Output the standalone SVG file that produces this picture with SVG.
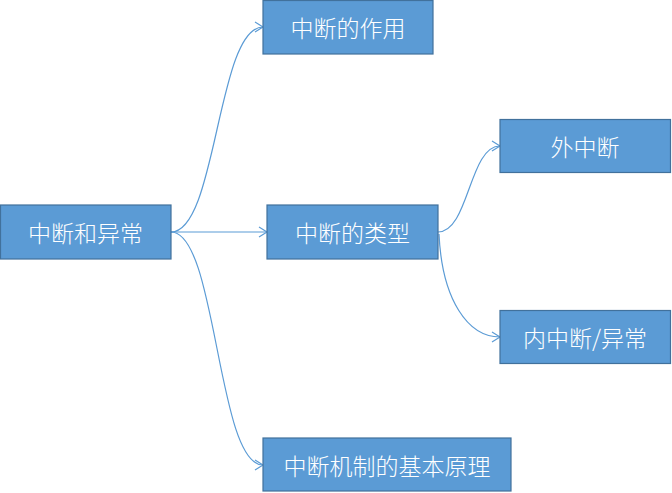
<svg xmlns="http://www.w3.org/2000/svg" width="672" height="493" viewBox="0 0 672 493">
<defs>
<style>
.box{fill:#5B9BD5;stroke:#41719C;stroke-width:1.2}
.lbl{fill:#fff;font-family:"Noto Sans CJK SC","Liberation Sans",sans-serif;font-size:23px;text-anchor:middle;dominant-baseline:central;font-weight:300}
.c{fill:none;stroke:#5B9BD5;stroke-width:1.2}
</style>
<marker id="ah" markerWidth="12" markerHeight="12" refX="9" refY="6" orient="auto" markerUnits="userSpaceOnUse">
<path d="M1,1 L9,6 L1,11" fill="none" stroke="#5B9BD5" stroke-width="1.2"/>
</marker>
</defs>
<rect width="672" height="493" fill="#fff"/>
<g id="connectors">
<path class="c" d="M171,232 C217,232 217,27 263,27" marker-end="url(#ah)"/>
<path class="c" d="M171,232 L267,232" marker-end="url(#ah)"/>
<path class="c" d="M171,232 C217,232 217,465 263,465" marker-end="url(#ah)"/>
<path class="c" d="M438,232 C469,232 469,146 500,146" marker-end="url(#ah)"/>
<path class="c" d="M439,234 C442,300 468,337 500,337" marker-end="url(#ah)"/>
</g>
<g id="n-root"><rect class="box" x="0.5" y="205" width="170.5" height="54"/><text class="lbl" x="85.5" y="232">中断和异常</text></g>
<g id="n-role"><rect class="box" x="263" y="0.5" width="170" height="53.5"/><text class="lbl" x="348" y="27">中断的作用</text></g>
<g id="n-type"><rect class="box" x="267" y="205" width="171" height="54"/><text class="lbl" x="352.5" y="232">中断的类型</text></g>
<g id="n-ext"><rect class="box" x="500" y="119.5" width="170.5" height="53"/><text class="lbl" x="585" y="146">外中断</text></g>
<g id="n-int"><rect class="box" x="500" y="310.5" width="170.5" height="53"/><text class="lbl" x="585" y="337">内中断/异常</text></g>
<g id="n-mech"><rect class="box" x="263" y="438" width="248" height="53"/><text class="lbl" x="387" y="465">中断机制的基本原理</text></g>
</svg>
